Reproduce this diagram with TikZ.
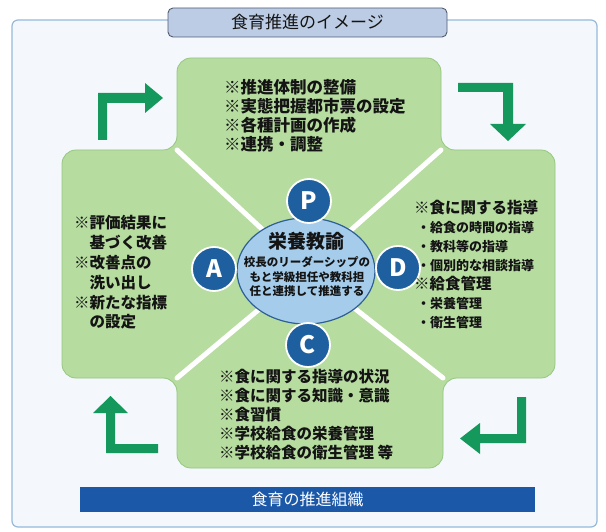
\documentclass[tikz,border=0pt]{standalone}
\usepackage{fontspec}
\usetikzlibrary{shapes.geometric}
\setmainfont{Noto Sans CJK JP}
\newfontfamily\jp{Noto Sans CJK JP}
\definecolor{framebg}{RGB}{244,247,251}
\definecolor{frameln}{RGB}{150,185,220}
\definecolor{titlebg}{RGB}{188,204,228}
\definecolor{titleln}{RGB}{80,92,115}
\definecolor{panelg}{RGB}{182,220,160}
\definecolor{panelln}{RGB}{150,200,130}
\definecolor{arrowg}{RGB}{20,152,92}
\definecolor{ellbg}{RGB}{165,205,235}
\definecolor{ellln}{RGB}{45,95,150}
\definecolor{circbg}{RGB}{30,95,160}
\definecolor{barbg}{RGB}{28,88,168}
\definecolor{txt}{RGB}{20,20,20}
\begin{document}
\begin{tikzpicture}[x=1pt,y=-1pt,
  paneltext/.style={align=left,inner sep=0pt,text=txt},
  letter/.style={circle,fill=circbg,draw=white,line width=1.8pt,minimum size=44pt,inner sep=0pt,text=white,font=\jp\bfseries\fontsize{24}{24}\selectfont},
  arrowshape/.style={fill=arrowg,draw=none},
  gap/.style={draw=white,line width=5pt,line cap=round}]
\useasboundingbox (0,0) rectangle (606,532);
% frame
\draw[fill=framebg,draw=frameln,line width=1.2pt,rounded corners=6pt] (12,20) rectangle (597,527);
% title
\node[draw=titleln,fill=titlebg,line width=0.9pt,rounded corners=5pt,minimum width=279pt,minimum height=29pt,inner sep=0pt,font=\jp\fontsize{17}{17}\selectfont,text=txt] (title) at (307.5,22.5) {食育推進のイメージ};
% green cross
\draw[fill=panelg,draw=panelln,line width=0.8pt,rounded corners=14pt]
  (177,58) -- (441,58) -- (441,150) -- (555,150) -- (555,378) -- (443,378) -- (443,468) -- (177,468) -- (177,378) -- (62,378) -- (62,150) -- (177,150) -- cycle;
\coordinate (ctr) at (306,270);
\coordinate (cUL) at (177,150);
\coordinate (cUR) at (441,150);
\coordinate (cLL) at (177,378);
\coordinate (cLR) at (443,378);
\draw[gap] (cUL) -- (ctr);
\draw[gap] (cUR) -- (ctr);
\draw[gap] (cLL) -- (ctr);
\draw[gap] (cLR) -- (ctr);
% arrows
\fill[arrowshape] (98,140) -- (98,93) -- (145,93) -- (145,83) -- (163,98) -- (145,113) -- (145,103) -- (107,103) -- (107,140) -- cycle;
\fill[arrowshape] (458,83) -- (513,83) -- (513,124) -- (526,124) -- (508,141) -- (490,124) -- (503,124) -- (503,92) -- (458,92) -- cycle;
\fill[arrowshape] (526,397) -- (526,443) -- (480,443) -- (480,454) -- (460,438.5) -- (480,423) -- (480,434) -- (517,434) -- (517,397) -- cycle;
\fill[arrowshape] (158,453) -- (106,453) -- (106,413) -- (93,413) -- (110.5,396) -- (128,413) -- (115,413) -- (115,444) -- (158,444) -- cycle;
% center ellipse
\node[ellipse,draw=ellln,fill=ellbg,line width=1.2pt,minimum width=138pt,minimum height=106pt,inner sep=0pt] (ell) at (306,271) {};
\node[inner sep=0pt,text=txt,font=\jp\bfseries\fontsize{19}{19}\selectfont] (ellhead) at (306,241) {栄養教諭};
\node[align=center,inner sep=0pt,text=txt,font=\jp\bfseries\fontsize{11.5}{14.5}\selectfont] (elltext) at (307,277) {校長のリーダーシップの\\もと学級担任や教科担\\任と連携して推進する};
% letters
\node[letter] (P) at (309,201) {P};
\node[letter] (A) at (214,269) {A};
\node[letter] (D) at (398,268) {D};
\node[letter] (C) at (308,345) {C};
% panel texts
\node[paneltext,anchor=west,font=\jp\bfseries\fontsize{16.5}{19}\selectfont] (ptext) at (224,115.5) {※推進体制の整備\\※実態把握都市票の設定\\※各種計画の作成\\※連携・調整};
\node[paneltext,text width=110pt,anchor=west,font=\jp\bfseries\fontsize{15.5}{19.8}\selectfont] (atext) at (74,272.5) {※評価結果に\\\rule{15.5pt}{0pt}基づく改善\\※改善点の\\\rule{15.5pt}{0pt}洗い出し\\※新たな指標\\\rule{15.5pt}{0pt}の設定};
\node[paneltext,text width=135pt,anchor=west,font=\jp\bfseries\fontsize{13}{19}\selectfont] (dtext) at (414,264.5) {{\fontsize{15.5}{19}\selectfont ※食に関する指導}\\
  \rule{3pt}{0pt}・給食の時間の指導\\
  \rule{3pt}{0pt}・教科等の指導\\
  \rule{3pt}{0pt}・個別的な相談指導\\
  {\fontsize{15.5}{19}\selectfont ※給食管理}\\
  \rule{3pt}{0pt}・栄養管理\\
  \rule{3pt}{0pt}・衛生管理};
\node[paneltext,anchor=west,font=\jp\bfseries\fontsize{15.5}{19}\selectfont] (ctext) at (219,415) {※食に関する指導の状況\\※食に関する知識・意識\\※食習慣\\※学校給食の栄養管理\\※学校給食の衛生管理 等};
% bottom bar
\node[fill=barbg,minimum width=455pt,minimum height=25pt,inner sep=0pt,text=white,font=\jp\fontsize{16}{16}\selectfont] (bar) at (307.5,499.5) {食育の推進組織};
\end{tikzpicture}
\end{document}
